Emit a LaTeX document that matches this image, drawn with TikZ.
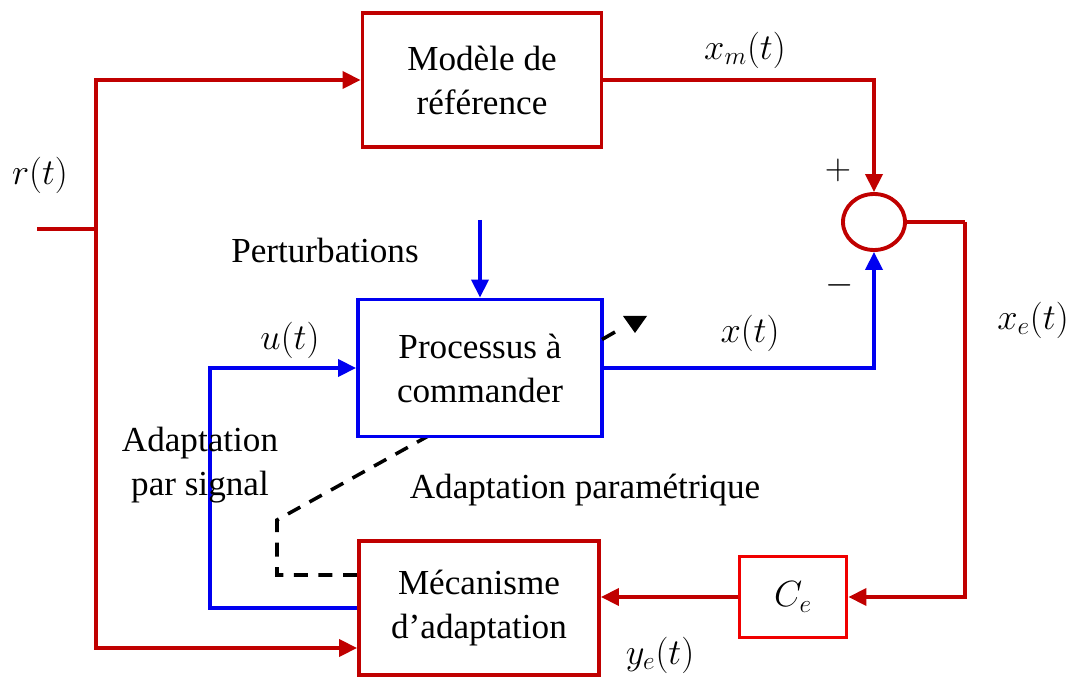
\documentclass[tikz,border=0pt]{standalone}
\usepackage{fontspec}
\setmainfont{Liberation Serif}
\usepackage{tikz}
\usetikzlibrary{arrows.meta,positioning,shapes.geometric,calc}
\pgfdeclarelayer{background}
\pgfsetlayers{background,main}
\definecolor{rougef}{RGB}{192,0,0}
\definecolor{rougec}{RGB}{240,0,0}
\definecolor{bleu}{RGB}{0,0,240}

\begin{document}
\begin{tikzpicture}[
  bloc/.style={draw=#1,line width=2.2pt,fill=white,align=center,inner sep=0pt,
    font=\fontsize{20}{25}\selectfont},
  txt/.style={font=\fontsize{20}{25}\selectfont,inner sep=1pt},
  ligne/.style={line width=2.2pt},
  fleche/.style={line width=2.2pt,-{Triangle[length=0.36cm,width=0.34cm]}},
  tirets/.style={line width=2pt,dash pattern=on 8pt off 6pt}
]
  \useasboundingbox (0,0) rectangle (21.56,13.56);

  % blocs
  \node[bloc=rougef,minimum width=4.78cm,minimum height=2.68cm] (modele) at (9.64,11.96) {Mod\`ele de\\r\'ef\'erence};
  \node[bloc=bleu,minimum width=4.88cm,minimum height=2.74cm] (proc) at (9.6,6.2) {Processus \`a\\commander};
  \node[bloc=rougef,minimum width=4.8cm,minimum height=2.68cm] (meca) at (9.58,1.4) {M\'ecanisme\\d'adaptation};
  \node[bloc=rougec,minimum width=2.14cm,minimum height=1.62cm] (ce) at (15.86,1.62) {$C_e$};
  \node[draw=rougef,ellipse,line width=2.2pt,minimum width=1.24cm,minimum height=1.12cm] (somme) at (17.48,9.12) {};

  % points libres
  \coordinate (rin) at (0.74,8.98);
  \coordinate (rj) at (1.92,8.98);
  \coordinate (xe) at (19.3,9.12);
  \coordinate (pert) at (9.6,9.16);
  \coordinate (ua) at (4.2,1.4);
  \coordinate (coin) at (5.54,3.16);
  \coordinate (pbord) at (12.04,6.77);
  \coordinate (pfin) at (12.3,6.92);

  % branche rouge
  \draw[ligne,rougef] (rin) -- (rj);
  \draw[fleche,rougef] (rj) |- (modele.west);
  \draw[fleche,rougef] (rj) |- ($(meca.west)+(0,-0.8)$);
  \draw[fleche,rougef] (modele.east) -| (somme.north);
  \draw[ligne,rougef] (somme.east) -- (xe);
  \draw[fleche,rougef] (xe) |- (ce.east);
  \draw[fleche,rougef] (ce.west) -- (ce.west -| meca.east);

  % branche bleue
  \draw[fleche,bleu] (pert) -- (proc.north);
  \draw[fleche,bleu] (proc.east) -| (somme.south);
  \draw[fleche,bleu] (meca.west) -- (ua) |- (proc.west);

  % adaptation parametrique
  \begin{pgfonlayer}{background}
    \draw[tirets] ($(meca.west)+(0,0.66)$) -| (coin) -- (pbord);
  \end{pgfonlayer}
  \draw[line width=2pt] (pbord) -- (pfin);
  \fill[black] (12.46,7.24) -- (12.94,7.24) -- (12.7,6.9) -- cycle;

  % textes
  \node[txt] (lr) at (0.8,10.06) {$r(t)$};
  \node[txt] (lxm) at (14.9,12.56) {$x_m(t)$};
  \node[txt] (lplus) at (16.76,10.16) {$+$};
  \node[txt] (lmoins) at (16.8,7.86) {$-$};
  \node[txt] (lxe) at (20.66,7.16) {$x_e(t)$};
  \node[txt] (lx) at (15.0,6.9) {$x(t)$};
  \node[txt] (lu) at (5.8,6.76) {$u(t)$};
  \node[txt] (lye) at (13.2,0.46) {$y_e(t)$};
  \node[txt] (lpert) at (6.5,8.56) {Perturbations};
  \node[txt,align=center] (lsig) at (4.0,4.26) {Adaptation\\par signal};
  \node[txt] (lpar) at (11.7,3.76) {Adaptation param\'etrique};
\end{tikzpicture}
\end{document}
